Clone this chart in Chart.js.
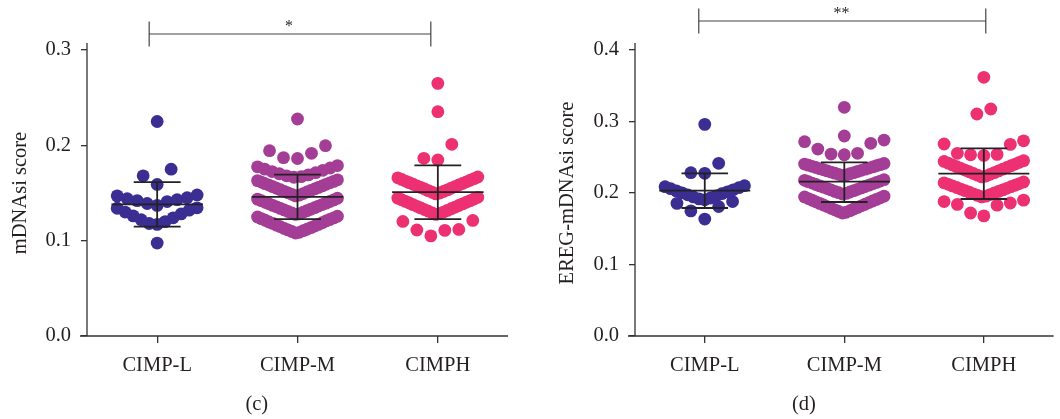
<!DOCTYPE html>
<html>
<head>
<meta charset="utf-8">
<script src="https://cdn.jsdelivr.net/npm/chart.js@4.4.1/dist/chart.umd.min.js"></script>
<style>
  body { margin: 0; background: #fff; }
  #wrap { display: flex; width: 1060px; height: 419px; }
  canvas { display: block; }
</style>
</head>
<body>
<div id="wrap">
  <canvas id="chartC" width="530" height="419"></canvas>
  <canvas id="chartD" width="530" height="419"></canvas>
</div>
<script>
// categories and colours
const groups = ['CIMP-L', 'CIMP-M', 'CIMPH'];
const groupColors = ['#3a2e92', '#a43d96', '#ec3071'];

// panel (c): mDNAsi score, individual samples
const mdnasiL = [0.0975, 0.117, 0.118, 0.120, 0.122, 0.124, 0.126, 0.128, 0.130, 0.132, 0.134, 0.1345,
  0.137, 0.139, 0.141, 0.142, 0.143, 0.144, 0.145, 0.147, 0.148, 0.159, 0.168, 0.175, 0.225];
const mdnasiM = [0.108, 0.1088, 0.1097, 0.1105, 0.1113, 0.112, 0.1129, 0.1136, 0.1147, 0.1153, 0.1162,
  0.117, 0.1181, 0.1188, 0.1196, 0.1207, 0.1214, 0.1222, 0.1231, 0.1239, 0.1248, 0.1256,
  0.1275, 0.1282, 0.129, 0.1299, 0.1306, 0.1315, 0.1322, 0.1331, 0.1338, 0.1346, 0.1355,
  0.1363, 0.137, 0.1379, 0.1387, 0.1394, 0.1403, 0.1411, 0.1419, 0.1428, 0.1436, 0.1445,
  0.147, 0.1478, 0.1486, 0.1494, 0.1502, 0.1511, 0.1518, 0.1527, 0.1534, 0.1543, 0.155,
  0.1559, 0.1567, 0.1574, 0.1583, 0.1591, 0.1598, 0.1607, 0.1615, 0.1622, 0.163, 0.1638,
  0.1665, 0.1672, 0.168, 0.169, 0.1702, 0.1713, 0.1725, 0.1738, 0.175, 0.1762, 0.1775, 0.1788,
  0.1862, 0.1871, 0.1916, 0.1944, 0.1996, 0.2276];
const mdnasiH = [0.105, 0.1108, 0.1112, 0.1118, 0.1202, 0.1212,
  0.1275, 0.1283, 0.1292, 0.130, 0.1309, 0.1318, 0.1326, 0.1335, 0.1343, 0.1352, 0.136,
  0.1369, 0.1378, 0.1386, 0.1395, 0.1403, 0.1412, 0.142, 0.1429, 0.1438, 0.1446, 0.1455,
  0.149, 0.150, 0.1508, 0.1517, 0.1525, 0.1533, 0.1542, 0.155, 0.1559, 0.1567, 0.1575,
  0.1584, 0.1592, 0.160, 0.1609, 0.1617, 0.1625, 0.1634, 0.1642, 0.165, 0.1659, 0.1668,
  0.1846, 0.1864, 0.2011, 0.2353, 0.265];
const mdnasiMean = [0.138, 0.146, 0.151];
const mdnasiSdLow = [0.1147, 0.1227, 0.1227];
const mdnasiSdHigh = [0.1615, 0.1692, 0.179];
const yTicksC = [0, 0.1, 0.2, 0.3];

// panel (d): EREG-mDNAsi score, individual samples
const eregL = [0.1636, 0.175, 0.181, 0.1855, 0.188, 0.1905, 0.1918, 0.193, 0.1945, 0.196, 0.1975,
  0.199, 0.2003, 0.2017, 0.203, 0.2045, 0.206, 0.2074, 0.2088, 0.2102, 0.2275, 0.2284, 0.2415, 0.296];
const eregM = [0.172, 0.1731, 0.1742, 0.1753, 0.1765, 0.1776, 0.1787, 0.1798, 0.181, 0.1821, 0.1832,
  0.1843, 0.1855, 0.1866, 0.1877, 0.1888, 0.190, 0.1911, 0.1922, 0.1933, 0.1945, 0.1956,
  0.1985, 0.1995, 0.2004, 0.2014, 0.2023, 0.2033, 0.2043, 0.2052, 0.2062, 0.2071, 0.2081,
  0.2091, 0.210, 0.211, 0.2119, 0.2129, 0.2139, 0.2148, 0.2158, 0.2167, 0.2177, 0.2186,
  0.2245, 0.2253, 0.2261, 0.2269, 0.2277, 0.2285, 0.2293, 0.2301, 0.2309, 0.2317, 0.2325,
  0.2333, 0.2341, 0.2349, 0.2357, 0.2365, 0.2373, 0.2381, 0.2389, 0.2397, 0.2405, 0.2413,
  0.2535, 0.2545, 0.2555, 0.2615, 0.2695, 0.2718, 0.274, 0.2797, 0.3198];
const eregH = [0.168, 0.172, 0.183, 0.184, 0.186, 0.188, 0.190,
  0.1945, 0.1956, 0.1967, 0.1978, 0.1989, 0.200, 0.2011, 0.2022, 0.2033, 0.2044, 0.2055,
  0.2066, 0.2077, 0.2088, 0.2099, 0.211, 0.2121, 0.2132, 0.2143, 0.2154,
  0.2225, 0.2237, 0.2249, 0.2261, 0.2273, 0.2285, 0.2297, 0.2309, 0.2321, 0.2333, 0.2345,
  0.2357, 0.2369, 0.2381, 0.2393, 0.2405, 0.2417, 0.2429, 0.2441, 0.2453,
  0.2525, 0.2535, 0.254, 0.2555, 0.268, 0.2685, 0.273, 0.3105, 0.3175, 0.3618];
const eregMean = [0.2032, 0.2158, 0.227];
const eregSdLow = [0.179, 0.1874, 0.1916];
const eregSdHigh = [0.2275, 0.2429, 0.2625];
const yTicksD = [0, 0.1, 0.2, 0.3, 0.4];

const FONT = "'Liberation Serif', 'Times New Roman', serif";
const FS = 20.5;
const INK = '#231f20';
const AXIS = '#333333';
const PX_PER_CAT = 140.5;   // horizontal pixels between two groups
const MAX_STEP = 14;        // max horizontal spacing of dots in a row (px)
const ROW_SPAN = 80;        // max width of a row of dots (px)
const MEAN_HALF = 0.326;    // half width of the mean line (category units)
const CAP_HALF = 0.167;     // half width of the SD caps

// Prism-style scatter: bin values into rows, lay each row out centre-outwards
function swarm(values, cat, rowH) {
  const sorted = values.slice().sort((a, b) => a - b);
  const rows = [];
  let row = null;
  sorted.forEach(v => {
    if (!row || v - row[0] > rowH) { row = [v]; rows.push(row); }
    else row.push(v);
  });
  const pts = [];
  rows.forEach(r => {
    const n = r.length;
    const step = n > 1 ? Math.min(MAX_STEP, ROW_SPAN / (n - 1)) : 0;
    r.forEach((v, i) => {
      let slot;
      if (n % 2) {
        const k = Math.ceil(i / 2);
        slot = i === 0 ? 0 : (i % 2 ? -k : k);
      } else {
        const k = Math.floor(i / 2) + 0.5;
        slot = i % 2 ? k : -k;
      }
      pts.push({ x: cat + slot * step / PX_PER_CAT, y: v });
    });
  });
  return pts;
}

function segment(x0, y0, x1, y1) {
  return {
    type: 'line', order: 0,
    data: [{ x: x0, y: y0 }, { x: x1, y: y1 }],
    borderColor: '#222', borderWidth: 1.8, pointRadius: 0, fill: false, tension: 0
  };
}

function buildDatasets(series, mean, lo, hi, rowH) {
  const sets = series.map((vals, i) => ({
    type: 'scatter', order: 1,
    data: swarm(vals, i, rowH),
    backgroundColor: groupColors[i], borderWidth: 0,
    pointRadius: 6.4, pointHoverRadius: 6.4
  }));
  mean.forEach((m, i) => {
    sets.push(segment(i - MEAN_HALF, m, i + MEAN_HALF, m));
    sets.push(segment(i - CAP_HALF, lo[i], i + CAP_HALF, lo[i]));
    sets.push(segment(i - CAP_HALF, hi[i], i + CAP_HALF, hi[i]));
    sets.push(segment(i, lo[i], i, hi[i]));
  });
  return sets;
}

// axis lines, significance bracket and panel letter
const decor = {
  id: 'decor',
  afterDraw(chart, args, o) {
    const { ctx, chartArea: a, scales: { x } } = chart;
    ctx.save();
    ctx.strokeStyle = AXIS;
    ctx.lineWidth = 1.3;
    ctx.beginPath();
    ctx.moveTo(a.left, a.top - 7);
    ctx.lineTo(a.left, a.bottom);
    ctx.moveTo(a.left - 7, a.bottom);
    ctx.lineTo(a.right, a.bottom);
    ctx.stroke();

    const x0 = x.getPixelForValue(o.bracket[0]);
    const x1 = x.getPixelForValue(o.bracket[1]);
    const by = a.top - o.bracketRise;
    ctx.strokeStyle = '#444';
    ctx.lineWidth = 1.2;
    ctx.beginPath();
    ctx.moveTo(x0, by - 12.5); ctx.lineTo(x0, by + 12.5);
    ctx.moveTo(x0, by); ctx.lineTo(x1, by);
    ctx.moveTo(x1, by - 12.5); ctx.lineTo(x1, by + 12.5);
    ctx.stroke();

    ctx.fillStyle = INK;
    ctx.textAlign = 'center';
    ctx.textBaseline = 'alphabetic';
    ctx.font = '16px ' + FONT;
    ctx.fillText(o.stars, x.getPixelForValue(o.starsAt), by - 3);

    ctx.font = FS + 'px ' + FONT;
    ctx.textBaseline = 'middle';
    ctx.fillText(o.panel, x.getPixelForValue(0.71), 405);
    ctx.restore();
  }
};

function makeChart(id, series, mean, lo, hi, rowH, yMax, yTicks, title, yWidth, titlePad, rightPad, deco) {
  new Chart(document.getElementById(id), {
    data: { datasets: buildDatasets(series, mean, lo, hi, rowH) },
    plugins: [decor],
    options: {
      responsive: false,
      animation: false,
      events: [],
      layout: { padding: { top: 50, right: rightPad, left: 0, bottom: 0 } },
      plugins: { legend: { display: false }, tooltip: { enabled: false }, decor: deco },
      scales: {
        x: {
          type: 'linear', min: -0.5, max: 2.5,
          afterBuildTicks: s => { s.ticks = groups.map((g, i) => ({ value: i })); },
          afterFit: s => { s.height = 83; },
          ticks: {
            callback: v => groups[v],
            font: { family: FONT, size: FS }, color: INK, padding: 10, maxRotation: 0
          },
          grid: { drawOnChartArea: false, tickLength: 7, color: AXIS, lineWidth: 1.3 },
          border: { display: false }
        },
        y: {
          min: 0, max: yMax,
          afterBuildTicks: s => { s.ticks = yTicks.map(v => ({ value: v })); },
          afterFit: s => { s.width = yWidth; },
          ticks: {
            callback: v => v.toFixed(1),
            font: { family: FONT, size: FS }, color: INK, padding: 10
          },
          grid: { drawOnChartArea: false, tickLength: 6, color: AXIS, lineWidth: 1.3 },
          border: { display: false },
          title: {
            display: true, text: title, color: INK,
            font: { family: FONT, size: FS }, padding: { top: titlePad, bottom: 0 }
          }
        }
      }
    }
  });
}

makeChart('chartC', [mdnasiL, mdnasiM, mdnasiH], mdnasiMean, mdnasiSdLow, mdnasiSdHigh,
  0.019, 0.3, yTicksC, 'mDNAsi score', 87, 8, 22,
  { bracket: [-0.057, 1.95], bracketRise: 16, stars: '*', starsAt: 0.94, panel: '(c)' });

makeChart('chartD', [eregL, eregM, eregH], eregMean, eregSdLow, eregSdHigh,
  0.025, 0.4, yTicksD, 'EREG-mDNAsi score', 105, 25, 3,
  { bracket: [-0.043, 2.014], bracketRise: 29, stars: '**', starsAt: 0.98, panel: '(d)' });
</script>
</body>
</html>
